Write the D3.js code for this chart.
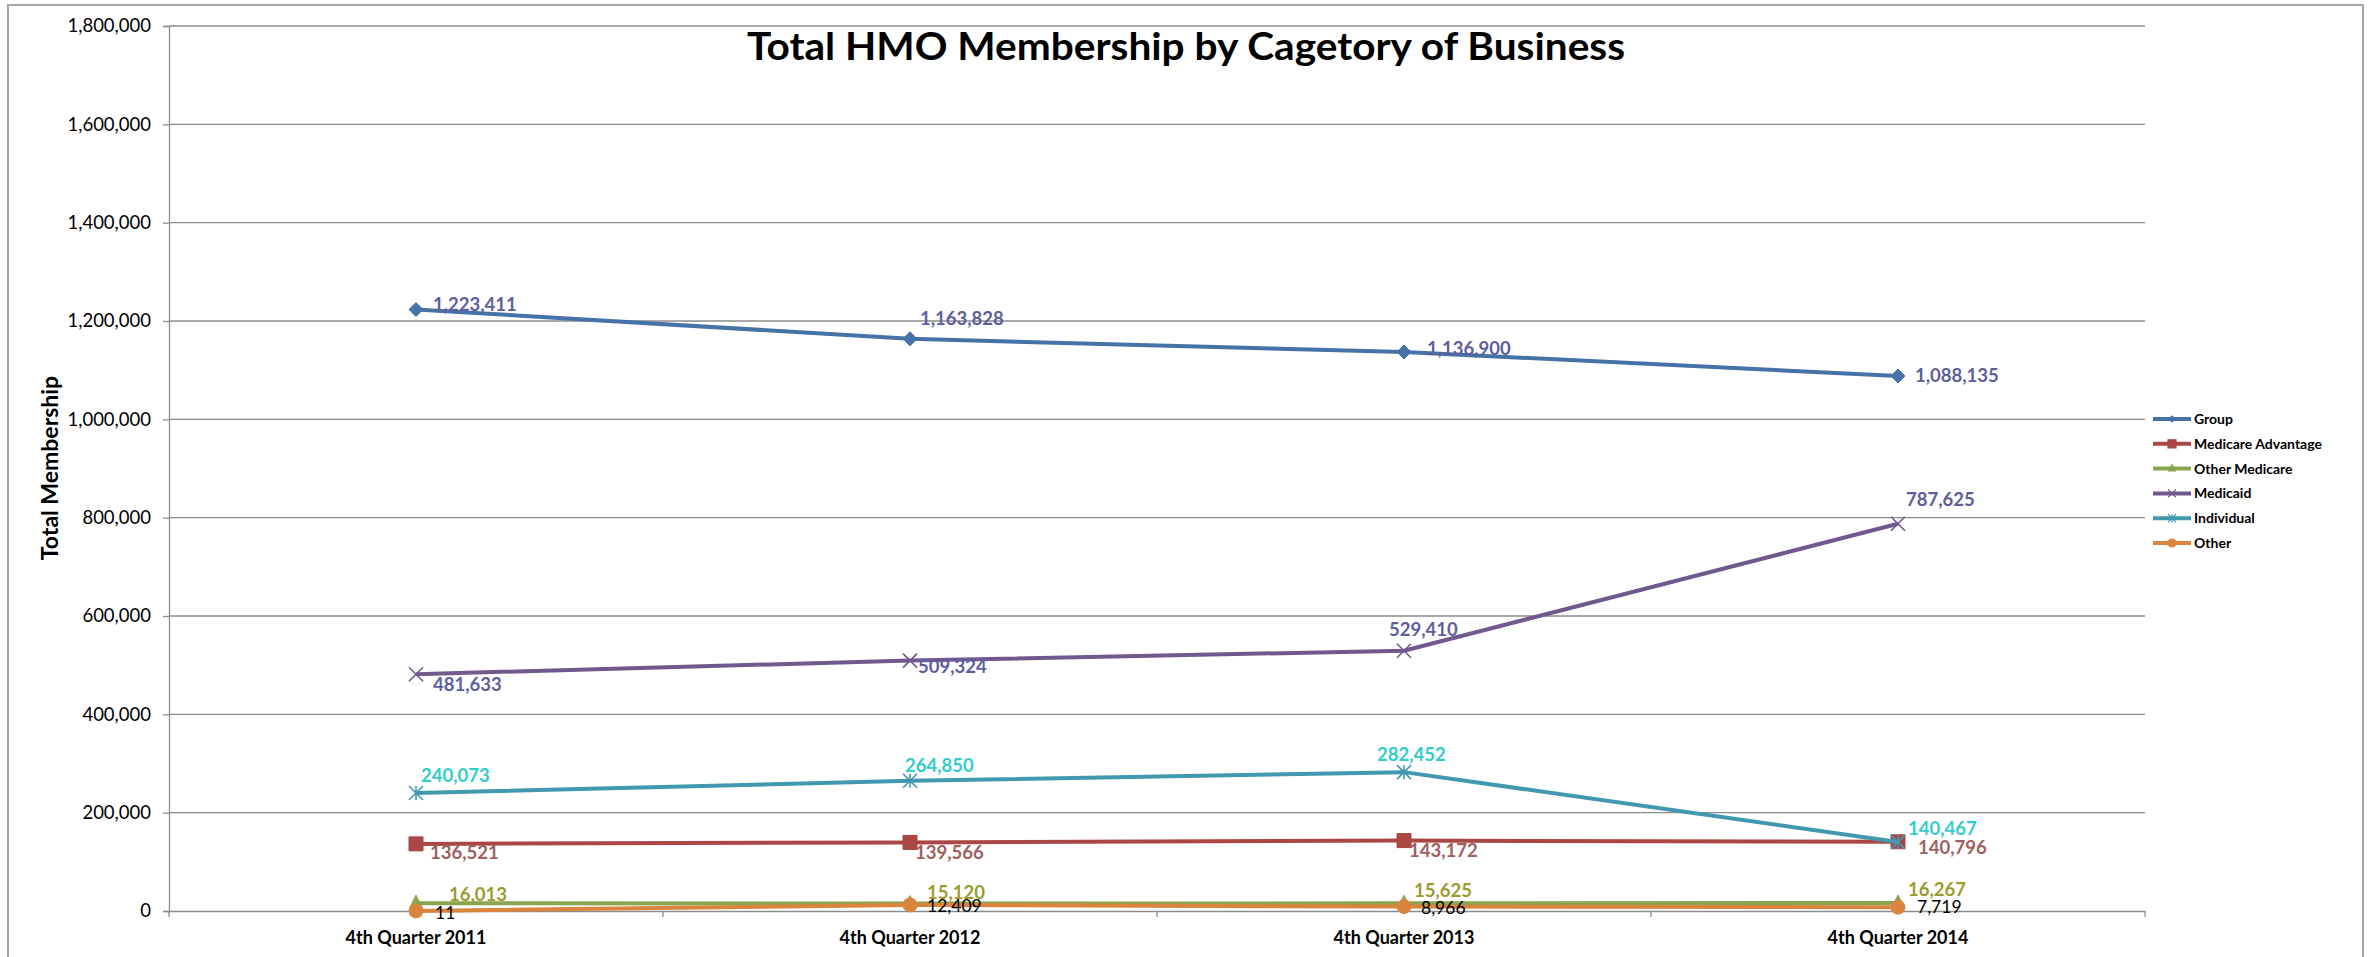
<!DOCTYPE html>
<html>
<head>
<meta charset="utf-8">
<script src="https://cdn.jsdelivr.net/npm/d3@7"></script>
<style>
  body { margin: 0; background: #fff; }
  text { font-family: Lato, "Open Sans", sans-serif; }
</style>
</head>
<body>
<div id="container"></div>
<script>
///data
let quarters = ["4th Quarter 2011", "4th Quarter 2012", "4th Quarter 2013", "4th Quarter 2014"];
let seriesNames = ["Group", "Medicare Advantage", "Other Medicare", "Medicaid", "Individual", "Other"];
let group = [1223411, 1163828, 1136900, 1088135];
let medicareAdv = [136521, 139566, 143172, 140796];
let otherMedicare = [16013, 15120, 15625, 16267];
let medicaid = [481633, 509324, 529410, 787625];
let individual = [240073, 264850, 282452, 140467];
let other = [11, 12409, 8966, 7719];
let yTicks = [0, 200000, 400000, 600000, 800000, 1000000, 1200000, 1400000, 1600000, 1800000];

///size
let w = 2368, h = 957;
let plotL = 169, plotR = 2145, plotT = 26, plotB = 911;

///look of each series
let styles = [
  {color: "#4572a7", marker: "diamond", label: "#5e5e9c", bold: true,
   off: [[17, -5], [10, -20], [23, -3], [17, 0]]},
  {color: "#aa4643", marker: "square", label: "#a0605f", bold: true,
   off: [[14, 9], [5, 10], [5, 10], [20, 6]]},
  {color: "#89a54e", marker: "triangle", label: "#9c9c2e", bold: true,
   off: [[33, -9], [17, -11], [10, -13], [10, -13]]},
  {color: "#71588f", marker: "x", label: "#5e5e9c", bold: true,
   off: [[17, 10], [8, 6], [-15, -21], [8, -24]]},
  {color: "#4198af", marker: "star", label: "#33cccc", bold: true,
   off: [[5, -17], [-5, -15], [-27, -18], [10, -13]]},
  {color: "#db843d", marker: "circle", label: "#000", bold: false,
   off: [[19, 2], [17, 1], [17, 1], [19, 0]]}
];
let values = [group, medicareAdv, otherMedicare, medicaid, individual, other];

let svg = d3.select("#container").append("svg")
  .attr("width", w).attr("height", h);

svg.append("rect")
  .attr("x", 8).attr("y", 5)
  .attr("width", 2355).attr("height", 960)
  .attr("fill", "#fff").attr("stroke", "#a6a6a6").attr("stroke-width", 2);

///scales
let x = d3.scaleBand().domain(quarters).range([plotL, plotR]);
let y = d3.scaleLinear().domain([0, 1800000]).range([plotB, plotT]);

///grid
svg.append("g").selectAll("line")
  .data(yTicks.slice(1)).enter().append("line")
  .attr("x1", plotL).attr("x2", plotR)
  .attr("y1", d => y(d)).attr("y2", d => y(d))
  .attr("stroke", "#8c8c8c").attr("stroke-width", 1.3);

///y axis
let yAxis = d3.axisLeft(y).tickValues(yTicks)
  .tickFormat(d3.format(",")).tickSize(6).tickPadding(12);
let yG = svg.append("g").attr("transform", "translate(" + plotL + ",0)").call(yAxis);
yG.select(".domain").attr("stroke", "#8c8c8c").attr("stroke-width", 1.3);
yG.selectAll(".tick line").attr("stroke", "#8c8c8c").attr("stroke-width", 1.3);
yG.selectAll("text").attr("font-size", 18.5).attr("fill", "#000")
  .style("font-family", "Lato, sans-serif");

///x axis
let xAxis = d3.axisBottom(x).tickSize(0).tickPadding(20);
let xG = svg.append("g").attr("transform", "translate(0," + plotB + ")").call(xAxis);
xG.select(".domain").attr("stroke", "#8c8c8c").attr("stroke-width", 1.3);
xG.selectAll("text").attr("font-size", 18).attr("font-weight", "bold").attr("fill", "#000")
  .style("font-family", "Lato, sans-serif");
xG.selectAll(".sep").data(quarters.concat(["end"])).enter().append("line")
  .attr("class", "sep")
  .attr("x1", (d, i) => plotL + i * x.bandwidth())
  .attr("x2", (d, i) => plotL + i * x.bandwidth())
  .attr("y1", 0).attr("y2", 6)
  .attr("stroke", "#8c8c8c").attr("stroke-width", 1.3);

///titles
svg.append("text")
  .attr("x", 1186).attr("y", 60)
  .attr("text-anchor", "middle")
  .attr("font-size", 38).attr("font-weight", "bold")
  .attr("textLength", 878).attr("lengthAdjust", "spacingAndGlyphs")
  .text("Total HMO Membership by Cagetory of Business");

svg.append("text")
  .attr("transform", "translate(58,468) rotate(-90)")
  .attr("text-anchor", "middle")
  .attr("font-size", 23).attr("font-weight", "bold")
  .text("Total Membership");

///markers
function markerPath(type, s) {
  let r = s / 2;
  if (type === "diamond") return `M0,${-r}L${r},0L0,${r}L${-r},0Z`;
  if (type === "square") return `M${-r},${-r}H${r}V${r}H${-r}Z`;
  if (type === "triangle") return `M0,${-r}L${r * 0.8},${r * 0.6}H${-r * 0.8}Z`;
  if (type === "circle") return d3.symbol(d3.symbolCircle, Math.PI * r * r)();
  if (type === "x") return `M${-r},${-r}L${r},${r}M${r},${-r}L${-r},${r}`;
  if (type === "star") return `M${-r},${-r}L${r},${r}M${r},${-r}L${-r},${r}M0,${-r}V${r}`;
}

let line = d3.line()
  .x((d, i) => x(quarters[i]) + x.bandwidth() / 2)
  .y(d => y(d));

values.forEach((vals, s) => {
  let st = styles[s];
  let g = svg.append("g");
  g.append("path")
    .datum(vals)
    .attr("d", line)
    .attr("fill", "none")
    .attr("stroke", st.color)
    .attr("stroke-width", 4)
    .attr("stroke-linejoin", "round");
  let stroked = st.marker === "x" || st.marker === "star";
  g.selectAll(".m").data(vals).enter().append("path")
    .attr("class", "m")
    .attr("transform", (d, i) => "translate(" + (x(quarters[i]) + x.bandwidth() / 2) + "," + y(d) + ")")
    .attr("d", markerPath(st.marker, st.marker === "triangle" ? 16 : 14))
    .attr("fill", stroked ? "none" : st.color)
    .attr("stroke", st.color)
    .attr("stroke-width", stroked ? 1.6 : 1);
});

///data labels
values.forEach((vals, s) => {
  let st = styles[s];
  svg.append("g").selectAll("text").data(vals).enter().append("text")
    .attr("x", (d, i) => x(quarters[i]) + x.bandwidth() / 2 + st.off[i][0])
    .attr("y", (d, i) => y(d) + st.off[i][1])
    .attr("dy", "0.35em")
    .attr("font-size", st.bold ? 18.5 : 17.5)
    .attr("font-weight", st.bold ? "bold" : "normal")
    .attr("fill", st.label)
    .text(d => d3.format(",")(d));
});

///legend
let legend = svg.append("g").attr("transform", "translate(2153,419)");
let items = legend.selectAll("g").data(seriesNames).enter().append("g")
  .attr("transform", (d, i) => "translate(0," + i * 24.8 + ")");
items.append("line")
  .attr("x1", 0).attr("x2", 38).attr("y1", 0).attr("y2", 0)
  .attr("stroke", (d, i) => styles[i].color).attr("stroke-width", 4);
items.append("path")
  .attr("transform", "translate(19,0)")
  .attr("d", (d, i) => markerPath(styles[i].marker, styles[i].marker === "diamond" ? 6 : 8))
  .attr("fill", (d, i) => (styles[i].marker === "x" || styles[i].marker === "star") ? "none" : styles[i].color)
  .attr("stroke", (d, i) => styles[i].color)
  .attr("stroke-width", 1.2);
items.append("text")
  .attr("x", 41).attr("dy", "0.35em")
  .attr("font-size", 14).attr("font-weight", "bold")
  .text(d => d);
</script>
</body>
</html>
